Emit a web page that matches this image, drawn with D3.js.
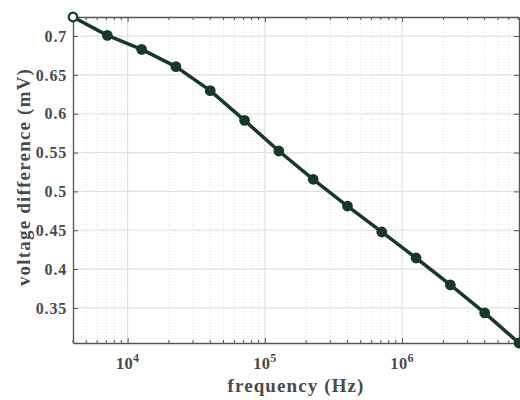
<!DOCTYPE html>
<html>
<head>
<meta charset="utf-8">
<script src="https://cdn.jsdelivr.net/npm/d3@7"></script>
<style>
  body { margin: 0; background: #fff; }
</style>
</head>
<body>
<div id="chart"></div>
<script>
// frequencies (Hz) and measured voltage difference (mV)
const frequencies = [4000, 7113, 12649, 22494, 40000, 71131, 126491, 224937, 400000, 711312, 1264911, 2249365, 4000000, 7113118];
const voltages = [0.7245, 0.7009, 0.6829, 0.6606, 0.6297, 0.5915, 0.552, 0.5156, 0.4812, 0.4478, 0.4143, 0.3796, 0.3436, 0.3049];
const yTicks = [0.35, 0.4, 0.45, 0.5, 0.55, 0.6, 0.65, 0.7];
const xTicks = [1e4, 1e5, 1e6];
const xLabel = "frequency (Hz)";
const yLabel = "voltage difference (mV)";

const margin = {top: 17, right: 1, bottom: 57, left: 73},
      width = 520 - margin.left - margin.right,
      height = 400 - margin.top - margin.bottom;

const fontFamily = '"Liberation Serif", "Times New Roman", serif';
const textColor = "#4a4a4a";

const svg = d3.select("#chart")
  .append("svg")
    .attr("width", 520)
    .attr("height", 400)
  .append("g")
    .attr("transform", `translate(${margin.left},${margin.top})`);

const x = d3.scaleLog()
  .domain([frequencies[0], frequencies[frequencies.length - 1]])
  .range([0, width]);

const y = d3.scaleLinear()
  .domain([d3.min(voltages), d3.max(voltages)])
  .range([height, 0]);

// minor ticks (2..9 per decade) inside the domain
const minor = x.ticks().filter(t => !xTicks.includes(t));

// minor grid (dotted)
svg.append("g")
  .selectAll("line")
  .data(minor)
  .enter().append("line")
    .attr("x1", d => x(d)).attr("x2", d => x(d))
    .attr("y1", 0).attr("y2", height)
    .attr("stroke", "#d4d4d4")
    .attr("stroke-width", 0.8)
    .attr("stroke-dasharray", "1,2");

// major grid
svg.append("g")
  .selectAll("line")
  .data(xTicks)
  .enter().append("line")
    .attr("x1", d => x(d)).attr("x2", d => x(d))
    .attr("y1", 0).attr("y2", height)
    .attr("stroke", "#e0e0e0")
    .attr("stroke-width", 1.2);

svg.append("g")
  .selectAll("line")
  .data(yTicks)
  .enter().append("line")
    .attr("x1", 0).attr("x2", width)
    .attr("y1", d => y(d)).attr("y2", d => y(d))
    .attr("stroke", "#e0e0e0")
    .attr("stroke-width", 1.2);

const axisColor = "#555";

// bottom axis
const bottomAxis = svg.append("g")
  .attr("transform", `translate(0,${height})`)
  .call(d3.axisBottom(x).tickValues(xTicks).tickSizeInner(-5).tickSizeOuter(0).tickFormat(""));
bottomAxis.append("g").attr("class", "minor").selectAll("line")
  .data(minor).enter().append("line")
    .attr("x1", d => x(d)).attr("x2", d => x(d))
    .attr("y1", 0).attr("y2", -3);

// top axis
const topAxis = svg.append("g")
  .call(d3.axisTop(x).tickValues(xTicks).tickSizeInner(-5).tickSizeOuter(0).tickFormat(""));
topAxis.append("g").attr("class", "minor").selectAll("line")
  .data(minor).enter().append("line")
    .attr("x1", d => x(d)).attr("x2", d => x(d))
    .attr("y1", 0).attr("y2", 3);

// left axis
const leftAxis = svg.append("g")
  .call(d3.axisLeft(y).tickValues(yTicks).tickSizeInner(-5).tickSizeOuter(0).tickPadding(6).tickFormat(d3.format("")));
leftAxis.selectAll("text")
  .attr("font-family", null)
  .style("font-family", fontFamily)
  .style("font-weight", "bold")
  .style("font-size", "16px")
  .style("letter-spacing", "0.8px")
  .attr("fill", textColor);

// right axis
svg.append("g")
  .attr("transform", `translate(${width},0)`)
  .call(d3.axisRight(y).tickValues(yTicks).tickSizeInner(-5).tickSizeOuter(0).tickFormat(""));

svg.selectAll(".domain").attr("stroke", axisColor).attr("stroke-width", 1.3);
svg.selectAll(".tick line").attr("stroke", axisColor);
svg.selectAll(".minor line").attr("stroke", axisColor);

// x tick labels with superscript exponent
const xl = svg.append("g");
xTicks.forEach(t => {
  const txt = xl.append("text")
    .attr("x", x(t))
    .attr("y", height + 26)
    .attr("text-anchor", "middle")
    .attr("fill", textColor)
    .style("font-family", fontFamily)
    .style("font-weight", "bold")
    .style("font-size", "16.5px")
    .style("letter-spacing", "0.3px");
  txt.append("tspan").text("10");
  txt.append("tspan")
    .attr("dy", -7)
    .style("font-size", "12px")
    .text(Math.round(Math.log10(t)));
});

// axis labels
svg.append("text")
  .attr("x", width / 2)
  .attr("y", height + 49)
  .attr("text-anchor", "middle")
  .attr("fill", textColor)
  .style("font-family", fontFamily)
  .style("font-weight", "bold")
  .style("font-size", "19px")
  .style("letter-spacing", "1.1px")
  .text(xLabel);

svg.append("text")
  .attr("transform", "rotate(-90)")
  .attr("x", -height / 2 + 3)
  .attr("y", -43)
  .attr("text-anchor", "middle")
  .attr("fill", textColor)
  .style("font-family", fontFamily)
  .style("font-weight", "bold")
  .style("font-size", "19px")
  .style("letter-spacing", "1.2px")
  .text(yLabel);

// data line
const lineColor = "#173a28";
const pts = frequencies.map((f, i) => ({f, v: voltages[i]}));

svg.append("path")
  .datum(pts)
  .attr("fill", "none")
  .attr("stroke", lineColor)
  .attr("stroke-width", 3.5)
  .attr("stroke-linejoin", "round")
  .attr("d", d3.line().x(d => x(d.f)).y(d => y(d.v)));

svg.selectAll(".dot")
  .data(pts)
  .enter().append("circle")
    .attr("class", "dot")
    .attr("cx", d => x(d.f))
    .attr("cy", d => y(d.v))
    .attr("r", 4.3)
    .attr("fill", (d, i) => i === 0 ? "#fff" : lineColor)
    .attr("stroke", lineColor)
    .attr("stroke-width", 2.2);
</script>
</body>
</html>
